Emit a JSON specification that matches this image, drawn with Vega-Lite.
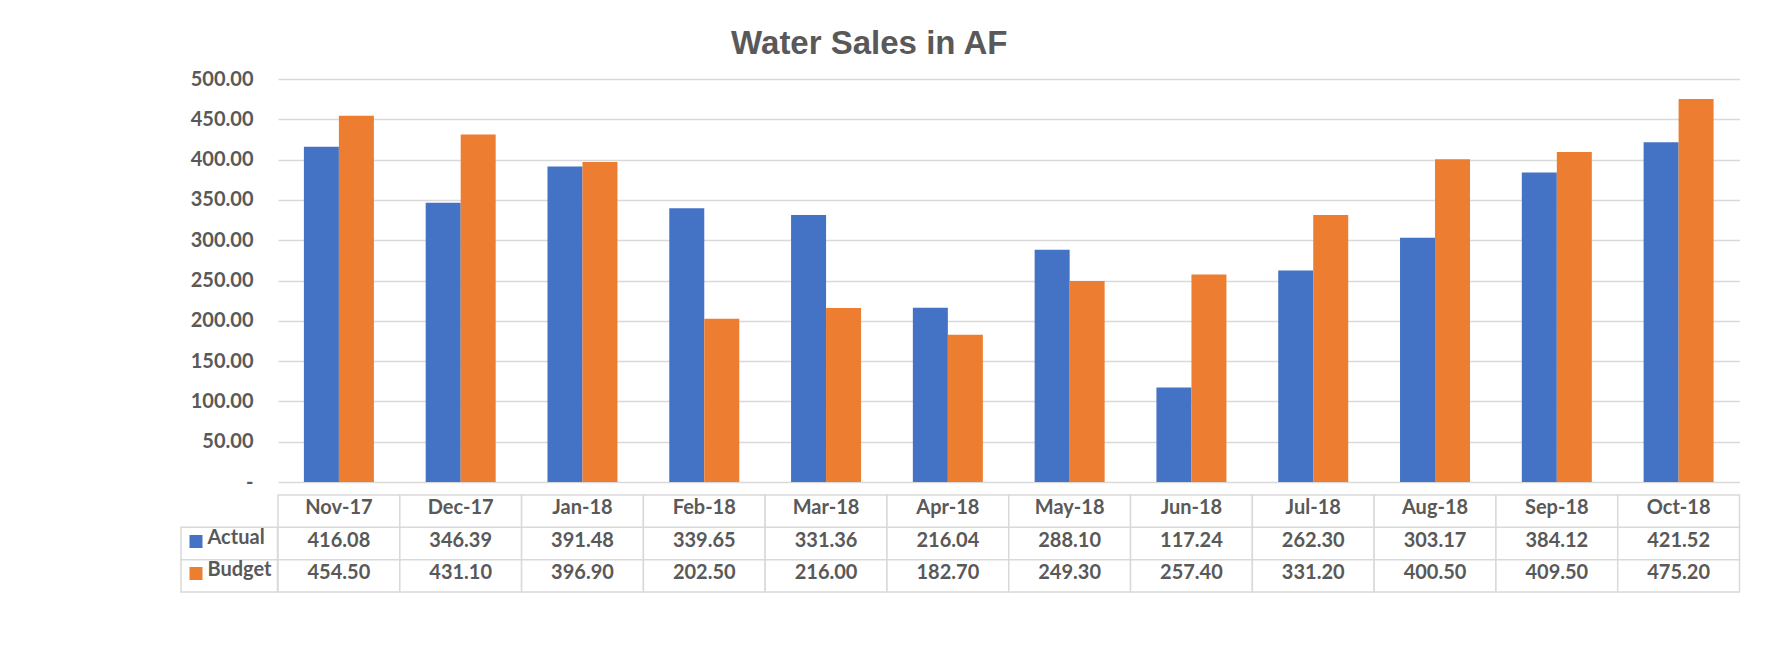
{
  "$schema": "https://vega.github.io/schema/vega-lite/v6.json",
  "padding": {"left": 180, "top": 28, "right": 36, "bottom": 50},
  "background": "white",
  "title": {"text": "Water Sales in AF", "font": "Liberation Sans", "fontSize": 33, "fontWeight": "bold", "color": "#595959", "anchor": "middle", "dx": -91, "offset": 8},
  "data": {"values": [
    {"month": "Nov-17", "series": "Actual", "value": 416.08},
    {"month": "Nov-17", "series": "Budget", "value": 454.50},
    {"month": "Dec-17", "series": "Actual", "value": 346.39},
    {"month": "Dec-17", "series": "Budget", "value": 431.10},
    {"month": "Jan-18", "series": "Actual", "value": 391.48},
    {"month": "Jan-18", "series": "Budget", "value": 396.90},
    {"month": "Feb-18", "series": "Actual", "value": 339.65},
    {"month": "Feb-18", "series": "Budget", "value": 202.50},
    {"month": "Mar-18", "series": "Actual", "value": 331.36},
    {"month": "Mar-18", "series": "Budget", "value": 216.00},
    {"month": "Apr-18", "series": "Actual", "value": 216.04},
    {"month": "Apr-18", "series": "Budget", "value": 182.70},
    {"month": "May-18", "series": "Actual", "value": 288.10},
    {"month": "May-18", "series": "Budget", "value": 249.30},
    {"month": "Jun-18", "series": "Actual", "value": 117.24},
    {"month": "Jun-18", "series": "Budget", "value": 257.40},
    {"month": "Jul-18", "series": "Actual", "value": 262.30},
    {"month": "Jul-18", "series": "Budget", "value": 331.20},
    {"month": "Aug-18", "series": "Actual", "value": 303.17},
    {"month": "Aug-18", "series": "Budget", "value": 400.50},
    {"month": "Sep-18", "series": "Actual", "value": 384.12},
    {"month": "Sep-18", "series": "Budget", "value": 409.50},
    {"month": "Oct-18", "series": "Actual", "value": 421.52},
    {"month": "Oct-18", "series": "Budget", "value": 475.20}
  ]},
  "columns": 2,
  "bounds": "flush",
  "align": "each",
  "spacing": {"row": 13, "column": 0},
  "concat": [
    {
      "width": 96.5, "height": 403,
      "data": {"values": []},
      "mark": {"type": "point", "opacity": 0}
    },
    {
      "width": 1461.5, "height": 403,
      "mark": {"type": "bar"},
      "encoding": {
        "x": {"field": "month", "type": "nominal", "sort": null, "scale": {"paddingInner": 0, "paddingOuter": 0}, "axis": null},
        "xOffset": {"field": "series", "type": "nominal", "sort": ["Actual", "Budget"], "scale": {"paddingInner": 0, "paddingOuter": 0.74}},
        "y": {"field": "value", "type": "quantitative", "scale": {"domain": [0, 500], "nice": false},
          "axis": {"values": [0, 50, 100, 150, 200, 250, 300, 350, 400, 450, 500],
            "labelExpr": "datum.value == 0 ? '-\u00a0\u00a0' : format(datum.value, ',.2f')",
            "domain": false, "ticks": false, "labelPadding": 25, "gridColor": "#d9d9d9", "gridWidth": 1.5,
            "labelFont": "Lato", "labelFontSize": 20, "labelFontWeight": "bold", "labelColor": "#595959", "title": null}},
        "color": {"field": "series", "type": "nominal", "scale": {"domain": ["Actual", "Budget"], "range": ["#4472C4", "#ED7D31"]}, "legend": null}
      }
    },
    {
      "width": 96.5, "height": 97,
      "transform": [{"filter": "datum.month == 'Nov-17'"}],
      "mark": {"type": "rect", "fill": "white", "stroke": "#d9d9d9", "strokeWidth": 1.5},
      "encoding": {
        "y": {"field": "series", "type": "nominal", "scale": {"domain": ["hdr", "Actual", "Budget"], "paddingInner": 0, "paddingOuter": 0},
          "axis": {"title": null, "orient": "left", "offset": -21, "domain": false, "grid": false, "ticks": true,
            "tickSize": 13, "tickWidth": 13, "tickOffset": -3, "labelAlign": "left", "labelPadding": -18, "labelBaseline": "middle", "labelOffset": -3,
            "labelExpr": "datum.value == 'hdr' ? '' : datum.value",
            "labelFont": "Lato", "labelFontSize": 20, "labelFontWeight": "bold", "labelColor": "#595959",
            "tickColor": {"condition": [{"test": "datum.value == 'Actual'", "value": "#4472C4"}, {"test": "datum.value == 'Budget'", "value": "#ED7D31"}], "value": "transparent"},
            "zindex": 1}}
      }
    },
    {
      "width": 1461.5, "height": 97,
      "encoding": {
        "x": {"field": "month", "type": "nominal", "sort": null, "scale": {"paddingInner": 0, "paddingOuter": 0}, "axis": null}
      },
      "layer": [
        {
          "mark": {"type": "rect", "fill": "white", "stroke": "#d9d9d9", "strokeWidth": 1.5},
          "encoding": {"y": {"field": "series", "type": "nominal", "scale": {"domain": ["hdr", "Actual", "Budget"], "paddingInner": 0, "paddingOuter": 0}, "axis": null}}
        },
        {
          "transform": [{"filter": "datum.series == 'Actual'"}],
          "mark": {"type": "rect", "fill": "white", "stroke": "#d9d9d9", "strokeWidth": 1.5},
          "encoding": {"y": {"datum": "hdr", "type": "nominal"}}
        },
        {
          "transform": [{"filter": "datum.series == 'Actual'"}],
          "mark": {"type": "text", "font": "Lato", "fontSize": 20, "fontWeight": "bold", "color": "#595959", "baseline": "middle", "dy": -3},
          "encoding": {"y": {"datum": "hdr", "type": "nominal"}, "text": {"field": "month", "type": "nominal"}}
        },
        {
          "mark": {"type": "text", "font": "Lato", "fontSize": 20, "fontWeight": "bold", "color": "#595959", "baseline": "middle", "dy": -3},
          "encoding": {"y": {"field": "series", "type": "nominal"}, "text": {"field": "value", "type": "quantitative", "format": ",.2f"}}
        }
      ]
    }
  ],
  "config": {"view": {"stroke": null}, "font": "Lato"}
}
